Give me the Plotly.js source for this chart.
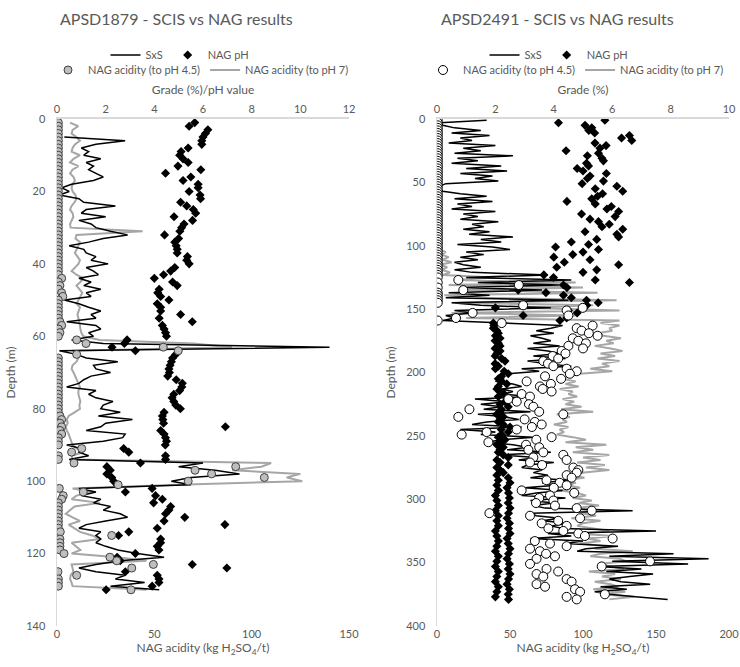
<!DOCTYPE html>
<html><head><meta charset="utf-8">
<script src="https://cdn.plot.ly/plotly-3.0.1.min.js"></script>
<style>html,body{margin:0;padding:0;background:#fff}#chart{width:740px;height:667px}</style>
</head><body><div id="chart"></div>
<script>
// ---------- APSD1879 (left) ----------
const depthL = [1,2,3,4,5,6,7,8,9,10,11,12,13,14,15,16,17,18,19,20,21,22,23,24,25,26,27,28,29,30,31,32,33,34,35,36,37,38,39,40,41,42,43,44,45,46,47,48,49,50,51,52,53,54,55,56,57,58,59,60,61,62,63,64,65,66,67,68,69,70,71,72,73,74,75,76,77,78,79,80,81,82,83,84,85,86,87,88,89,90,91,92,93,94,95,96,97,98,99,100,101,102,103,104,105,106,107,108,109,110,111,112,113,114,115,116,117,118,119,120,121,122,123,124,125,126,127,128,129,130];
const sxsL = [null,null,null,null,0.3,2.8,1.6,1.0,1.3,1.1, 1.8,1.2,1.5,1.3,1.6,1.9,1.5,0.6,0.2,0.5, 0.1,0.9,1.1,2.4,1.2,1.0,2.0,0.9,1.4,1.6, 2.2,2.9,1.9,1.3,0.5,1.1,1.2,1.6,1.4,2.1, 1.2,1.5,1.7,0.9,1.4,1.1,1.8,1.2,1.4,0.3, 0.9,1.3,1.8,1.4,1.6,0.4,1.6,1.8,1.3,1.5, 0.6,1.9,11.2,0.1,0.8,1.2,2.5,1.5,1.6,2.2, 1.4,1.1,0.9,0.4,1.6,1.3,1.6,2.3,1.9,1.8, 2.6,1.7,3.1,2.0,1.8,1.2,2.8,2.7,1.9,0.4, 1.0,0.9,1.3,0.5,6.0,5.0,6.5,7.5,5.5,4.7, 5.5,0.9,1.6,1.0,1.8,1.5,2.2,1.9,2.6,2.9, 2.0,1.2,0.9,1.8,1.6,1.8,1.6,2.0,2.5,3.3, 4.4,2.6,1.6,0.9,1.6,2.8,2.4,3.6,2.2,4.2];
const phL = [5.66,5.43,6.2,6.1,6.0,5.95,5.95,5.39,5.1,5.04, 5.18,5.39,4.97,5.91,4.46,5.5,5.18,5.8,5.8,5.43, 5.88,5.9,5.08,5.33,5.6,5.7,4.81,5.57,5.22,5.12, 5.05,4.42,5.0,4.84,4.9,4.94,4.94,5.36,5.33,5.43, 4.84,4.67,4.38,4.0,4.75,4.94,4.2,4.14,4.26,4.6, 4.12,4.26,4.26,5.08,4.2,5.56,4.33,4.4,4.46,4.5, 2.88,2.77,2.26,3.22,4.88,4.75,4.7,4.65,4.6,4.62, 4.55,4.9,5.15,5.13,5.04,4.8,4.73,4.8,4.88,5.07, 4.4,4.33,4.35,4.38,6.92,4.26,4.4,4.46,4.5,4.45, 2.74,2.95,4.46,4.46,3.43,2.05,2.19,2.05,2.25,2.33, 2.47,3.91,2.81,4.05,4.33,3.97,4.67,4.6,4.46,5.25, 4.4,6.9,4.12,2.95,2.53,4.26,4.26,4.12,4.19,3.22, 2.47,2.6,5.56,6.98,2.81,4.12,4.19,4.19,3.91,2.02];
const nag45L = [0.7,0.7,0.7,0.7,0.7,0.7,0.7,0.7,0.7,0.7, 0.7,0.7,0.7,0.7,0.7,0.7,0.7,0.7,0.7,0.7, 0.7,0.7,0.7,0.7,0.7,0.7,0.7,0.7,0.7,0.7, 0.7,0.7,0.7,0.7,0.7,0.7,0.7,0.7,0.7,0.7, 0.7,0.7,0.7,2.4,0.7,1.5,0.7,2.4,3.0,0.7, 0.7,0.7,0.7,0.7,0.7,1.5,2.4,0.7,1.5,0.7, 10.1,14.9,54.6,62.3,10.1,0.7,0.7,0.7,0.7,0.7, 0.7,0.7,0.7,0.7,0.7,0.7,0.7,0.7,0.7,0.7, 0.7,1.5,2.4,1.5,2.4,1.5,2.4,0.7,0.7,0.7, 12.7,7.5,0.7,0.7,8.7,91.8,70.9,79.4,106.5,67.4, 31.4,1.2,13.5,3.2,2.4,0.7,0.7,0.7,0.7,0.7, 0.7,0.7,0.7,1.7,28.1,1.5,1.5,1.5,1.5,3.6, 27.2,30.7,49.5,38.4,0.5,10.1,0.7,0.7,0.7,38.0];
const nag7L = [6.7,10.9,8,7.5,10,11.8,9.2,8,7.5,11.8, 8.5,6.7,11,8,6.7,8.5,9.2,8,7.5,8, 9.5,10,9,7.5,6.7,8,8.4,7.5,6.7,7, 44,10,9.5,11.8,11,10,9.2,10.5,11.8,11, 9,7.5,10,13.5,12,10,11.5,13,12,11, 10,11.8,11,10.5,11,11.5,11.8,12,12.5,13.5, 22,70,90,8.4,9,11,10,8,7.5,8.5, 9.2,10,11,11.8,11,11,11.5,12,11.5,11.8, 9,6,5,5.5,4.5,5,6,6.7,7.5,8, 10,13.5,7.5,8,110,105,90,125,118,126, 62,8,18.7,10,7.5,22,9,6.7,4.5,8, 11.8,6,9,11.8,18,22,7.5,10,12,7.5, 30.7,46,7.5,8,8.4,7,6.7,7.5,8,46];

// ---------- APSD2491 (right) ----------
const depthR = [1,3,5,7,9,11,13,15,17,19,21,23,25,27,29,31,33,35,37,39,41,43,45,47,49,51,53,55,57,59,61,63,65,67,69,71,73,75,77,79,81,83,85,87,89,91,93,95,97,99,101,103,105,107,109,111,113,115,117,119,121,123,125,127,129,131,133,135,137,139,141,143,145,147,149,151,153,155,157,159,161,163,165,167,169,171,173,175,177,179,181,183,185,187,189,191,193,195,197,199,201,203,205,207,209,211,213,215,217,219,221,223,225,227,229,231,233,235,237,239,241,243,245,247,249,251,253,255,257,259,261,263,265,267,269,271,273,275,277,279,281,283,285,287,289,291,293,295,297,299,301,303,305,307,309,311,313,315,317,319,321,323,325,327,329,331,333,335,337,339,341,343,345,347,349,351,353,355,357,359,361,363,365,367,369,371,373,375,377,379];
const sxsR = [1.7,0.1,0.2,0.6,1.5,0.5,1.8,0.8,1.2,0.4, 2.0,0.9,1.5,0.6,2.6,0.7,1.4,0.5,2.2,1.0, 2.4,0.8,1.9,1.3,2.1,0.3,0.1,0.1,0.2,0.8, 1.7,0.6,1.9,0.7,1.2,0.5,2.0,0.9,1.4,0.8, 2.1,1.2,1.6,0.9,1.8,1.1,2.6,1.5,2.2,0.7, 1.9,2.5,1.0,1.6,0.8,1.4,0.6,0.9,1.5,0.6, 1.2,3.8,1.0,4.6,1.4,4.2,0.8,3.6,0.4,1.8, 0.3,4.5,0.5,1.5,3.9,0.6,1.2,0.3,0.6,0.2, 2.3,4.3,3.9,3.4,4.0,3.2,3.6,3.9,3.3,4.2, 3.1,3.8,4.2,3.3,4.4,3.1,3.7,4.6,2.9,3.5, 2.4,2.1,2.3,2.0,2.6,2.9,2.2,2.6,2.3,3.1, 1.3,2.4,1.5,2.2,1.6,3.2,1.4,2.3,2.8,1.7, 1.2,2.9,0.8,2.0,1.5,3.3,2.2,1.7,2.6,3.1, 2.4,3.9,2.2,3.4,2.8,4.0,3.1,2.9,3.6,3.3, 3.8,3.2,4.5,3.6,4.1,3.0,4.3,3.4,2.9,4.4, 3.2,4.0,3.3,3.7,6.7,3.2,3.4,4.2,3.6,4.5, 3.9,4.3,7.5,3.8,4.6,3.2,5.0,4.4,6.2,5.1, 4.8,8.1,5.9,9.3,6.0,8.6,5.5,7.0,5.8,7.4, 6.6,5.9,6.3,7.3,5.6,6.5,5.4,5.9,6.8,7.9];
const phR = [5.75,4.16,5.07,5.3,5.2,5.4,6.59,6.32,6.67,5.41, 5.79,5.58,4.42,5.53,5.15,5.65,5.7,5.12,5.19,4.8, 5.0,5.8,5.24,5.15,5.7,4.97,6.16,5.42,6.36,5.67, 5.5,5.3,4.45,5.42,5.97,5.82,6.22,4.95,6.1,5.24, 5.53,5.9,5.65,6.36,5.07,6.16,6.22,5.47,4.6,5.19, 4.06,5.53,5.0,4.65,4.0,5.24,4.36,6.22,4.1,5.47, 5.0,3.66,3.99,5.42,6.59,4.33,4.45,2.78,3.73,4.33, 4.6,5.12,5.52,5.13,2.0,4.5,4.8,2.95,4.44,4.21, 1.93,1.95,1.93,2.05,2.1,2.0,2.16,1.99,2.1,2.16, 1.99,2.16,2.05,1.99,2.21,2.33,1.99,2.1,2.0,2.3, 2.44,2.21,2.1,2.21,2.39,2.1,2.05,2.16,2.3,2.1, 2.44,2.33,2.16,2.44,2.2,2.16,2.05,2.27,2.16,2.1, 2.27,2.5,2.2,2.44,2.21,2.1,2.33,2.16,2.05,2.27, 2.16,2.1,2.27,2.44,2.05,2.16,2.44,2.05,2.16,2.27, 2.05,2.44,2.1,2.5,2.05,2.4,2.1,2.45,2.0,2.48, 2.05,2.44,2.1,2.5,2.0,2.45,2.1,2.4,2.05,2.48, 2.1,2.45,2.0,2.5,2.05,2.4,2.1,2.44,2.05,2.5, 2.0,2.45,2.1,2.4,2.05,2.48,2.0,2.44,2.1,2.5, 2.05,2.45,2.0,2.4,2.1,2.48,2.05,2.44,2.0,2.45];
const nag45R = [0.5,0.5,0.5,0.5,0.5,0.5,0.5,0.5,0.5,0.5, 0.5,0.5,0.5,0.5,0.5,0.5,0.5,0.5,0.5,0.5, 0.5,0.5,0.5,0.5,0.5,0.5,0.5,0.5,0.5,0.5, 0.5,0.5,0.5,0.5,0.5,0.5,0.5,0.5,0.5,0.5, 0.5,0.5,0.5,0.5,0.5,0.5,0.5,0.5,0.5,0.5, 0.5,0.5,0.5,0.5,0.5,0.5,0.5,0.5,0.5,0.5, 0.5,0.5,0.5,14.6,0.5,56,0.5,18,0.5,0.5, 0.5,0.5,0.5,59,99.8,88.8,24.4,90,13,0.5, 44.3,106.6,95.7,99,104,110,93,96.8,102,90, 100,85.4,88,79.2,83,72.8,76,79.7,88.8,95.7, 91,74,85,61.4,78,70.5,72.4,78.5,58,63.7, 48.9,54.6,63,66,22.2,70,86.5,14.6,60,67, 71.7,65,54.6,34,16.9,78.5,68,35.2,61,70, 62.6,72.8,86.5,66,88.8,63.7,72,93.4,96.8,95.7, 88.8,92.2,75,84,88.8,80,58,94,77.4,70, 79.7,67.8,80.8,95.7,106,35.9,63.7,98,83,71.7, 88.8,76.3,86.5,96.8,101.3,120.3,67,77.4,88.8,63.7, 70.5,74.7,80.8,68.2,145.9,63.7,112.8,75,83,68.2, 72.8,88.8,92.2,68.2,74,94.5,98,115,88.8,95.7];
const nag7R = [0.5,0.5,0.5,0.5,0.5,0.5,0.5,0.5,0.5,0.5, 0.5,0.5,0.5,0.5,0.5,0.5,0.5,0.5,0.5,0.5, 0.5,0.5,0.5,0.5,0.5,0.5,0.5,0.5,0.5,0.5, 0.5,0.5,0.5,0.5,0.5,0.5,0.5,0.5,0.5,0.5, 0.5,0.5,0.5,0.5,0.5,0.5,0.5,1,2,1, 3,2,6,3,8,4,10,2,7,3, 9,4,40,12,95,8,100,20,110,5, 30,123,15,107,60,125,10,95,20,125, 112,125,118,120,110,114,126,116,121,108, 119,127,112,122,110,125,113,118,105,120, 98,92,85,95,88,97,84,93,90,96, 86,94,88,99,85,107,82,91,86,89, 80,90,84,87,82,93,102,88,116,95, 107,93,118,100,112,96,115,102,118,99, 92,101,86,95,89,98,84,96,102,93, 106,97,111,94,104,99,109,92,112,100, 96,107,118,95,121,103,112,98,115,108, 134,112,105,125,130,110,118,128,104,122, 113,126,108,119,124,107,129,112,135,118];

const F = 'Lato, "Open Sans", sans-serif';
const GREY_TXT = '#595959';
const AX_LINE = '#d9d9d9';

const traces = [
  // left
  {x: nag7L, y: depthL, xaxis:'x', yaxis:'y', type:'scatter', mode:'lines', name:'NAG acidity (to pH 7)',
   line:{color:'#a6a6a6', width:2}, legend:'legend2', legendrank:2, connectgaps:true},
  {x: sxsL, y: depthL, xaxis:'x2', yaxis:'y', type:'scatter', mode:'lines', name:'SxS',
   line:{color:'#000000', width:1.5}, legend:'legend', legendrank:1},
  {x: phL, y: depthL, xaxis:'x2', yaxis:'y', type:'scatter', mode:'markers', name:'NAG pH',
   marker:{symbol:'diamond', size:7, color:'#000000'}, legend:'legend', legendrank:2},
  {x: nag45L, y: depthL, xaxis:'x5', yaxis:'y', type:'scatter', mode:'markers', name:'NAG acidity (to pH 4.5)',
   marker:{symbol:'circle', size:8, color:'#bfbfbf', line:{color:'#404040', width:1}}, legend:'legend2', legendrank:1},
  // right
  {x: nag7R, y: depthR, xaxis:'x3', yaxis:'y2', type:'scatter', mode:'lines', name:'NAG acidity (to pH 7)',
   line:{color:'#a6a6a6', width:2}, legend:'legend4', legendrank:2},
  {x: sxsR, y: depthR, xaxis:'x4', yaxis:'y2', type:'scatter', mode:'lines', name:'SxS',
   line:{color:'#000000', width:1.5}, legend:'legend3', legendrank:1},
  {x: phR, y: depthR, xaxis:'x4', yaxis:'y2', type:'scatter', mode:'markers', name:'NAG pH',
   marker:{symbol:'diamond', size:7, color:'#000000'}, legend:'legend3', legendrank:2},
  {x: nag45R, y: depthR, xaxis:'x6', yaxis:'y2', type:'scatter', mode:'markers', name:'NAG acidity (to pH 4.5)',
   marker:{symbol:'circle', size:9, color:'#ffffff', line:{color:'#000000', width:1}}, legend:'legend4', legendrank:1}
];

const tf = {family:F, size:11, color:GREY_TXT};
const ttf = {family:F, size:12, color:GREY_TXT};
const baseX = {showgrid:false, zeroline:false, ticks:'', tickfont:tf, fixedrange:true};
const dL = [57/740, 349/740], dR = [437/740, 729/740], dY = [1-626/667, 1-119/667];

function leg(x, y){
  return {orientation:'h', x:x, y:y, xanchor:'center', yanchor:'middle', font:{family:F, size:11, color:GREY_TXT},
          bgcolor:'rgba(0,0,0,0)', borderwidth:0, itemwidth:30, traceorder:'normal'};
}

const layout = {
  width:740, height:667, margin:{l:0, r:0, t:0, b:0},
  paper_bgcolor:'#ffffff', plot_bgcolor:'#ffffff',
  showlegend:true,
  font:{family:F, color:GREY_TXT},
  xaxis: Object.assign({}, baseX, {domain:dL, anchor:'y', side:'bottom', range:[0,150], dtick:50, tick0:0, showline:false,
    title:{text:'NAG acidity (kg H<sub>2</sub>SO<sub>4</sub>/t)', font:ttf, standoff:4}}),
  xaxis2: Object.assign({}, baseX, {overlaying:'x', anchor:'y', side:'top', range:[0,12], dtick:2, tick0:0,
    showline:true, linecolor:AX_LINE, linewidth:2,
    title:{text:'Grade (%)/pH value', font:ttf, standoff:4}}),
  xaxis5: {overlaying:'x', anchor:'y', range:[0,150], visible:false, fixedrange:true},
  yaxis: Object.assign({}, baseX, {domain:dY, anchor:'x', range:[140,0], dtick:20, tick0:0, showline:true, linecolor:AX_LINE, linewidth:1.5,
    ticklabelstandoff:8, title:{text:'Depth (m)', font:ttf, standoff:8}}),
  xaxis3: Object.assign({}, baseX, {domain:dR, anchor:'y2', side:'bottom', range:[0,200], dtick:50, tick0:0, showline:false,
    title:{text:'NAG acidity (kg H<sub>2</sub>SO<sub>4</sub>/t)', font:ttf, standoff:4}}),
  xaxis4: Object.assign({}, baseX, {overlaying:'x3', anchor:'y2', side:'top', range:[0,10], dtick:2, tick0:0,
    showline:true, linecolor:AX_LINE, linewidth:2,
    title:{text:'Grade (%)', font:ttf, standoff:4}}),
  xaxis6: {overlaying:'x3', anchor:'y2', range:[0,200], visible:false, fixedrange:true},
  yaxis2: Object.assign({}, baseX, {domain:dY, anchor:'x3', range:[400,0], dtick:50, tick0:0, showline:true, linecolor:AX_LINE, linewidth:1.5,
    ticklabelstandoff:8, title:{text:'Depth (m)', font:ttf, standoff:8}}),
  legend: leg(180/740, 1-55/667),
  legend2: leg(201/740, 1-70/667),
  legend3: leg(559/740, 1-55/667),
  legend4: leg(576/740, 1-70/667),
  annotations: [
    {text:'APSD1879 - SCIS vs NAG results', xref:'paper', yref:'paper', x:176/740, y:1-18/667, xanchor:'center', yanchor:'middle',
     showarrow:false, font:{family:F, size:16, color:GREY_TXT}},
    {text:'APSD2491 - SCIS vs NAG results', xref:'paper', yref:'paper', x:557/740, y:1-18/667, xanchor:'center', yanchor:'middle',
     showarrow:false, font:{family:F, size:16, color:GREY_TXT}}
  ]
};

Plotly.newPlot('chart', traces, layout, {staticPlot:true, displayModeBar:false});
</script>
</body></html>
